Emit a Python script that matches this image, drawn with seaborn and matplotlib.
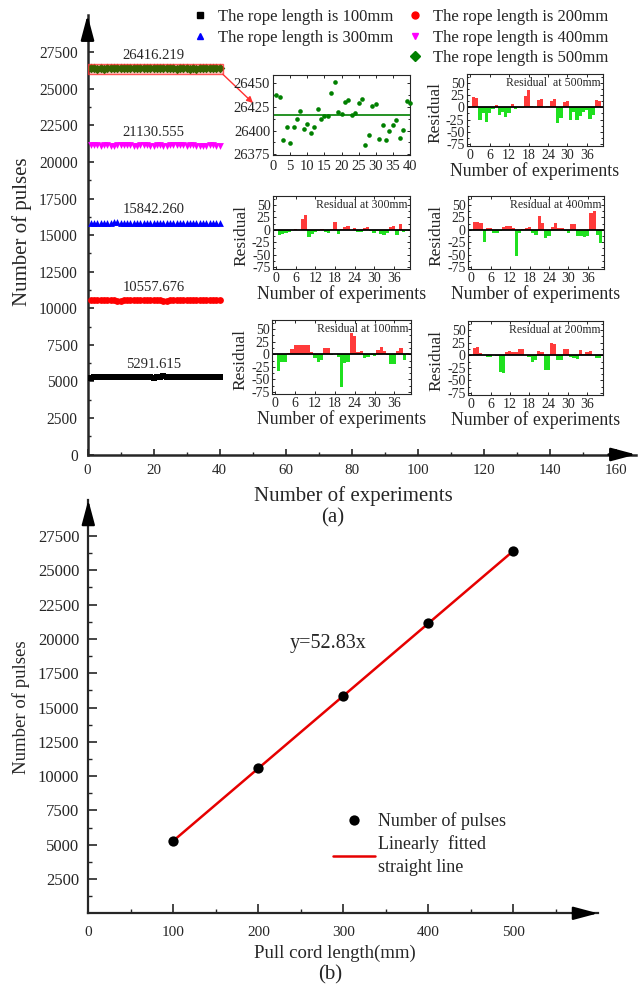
import matplotlib
matplotlib.use("Agg")
import matplotlib.pyplot as plt
import matplotlib.transforms as mtransforms
from matplotlib.lines import Line2D
from matplotlib.patches import Rectangle
from matplotlib.ticker import FixedLocator, MultipleLocator
import numpy as np
import seaborn as sns

sns.set_style("ticks")
plt.rcParams["font.family"] = ["Liberation Serif", "DejaVu Serif"]
plt.rcParams["axes.unicode_minus"] = False

# ---------------- data ----------------
rope_lengths = [100, 200, 300, 400, 500]
mean_pulses = [5291.615, 10557.676, 15842.260, 21130.555, 26416.219]
experiments = list(range(1, 41))

# deviation of each of the 40 runs from the mean pulse count
resid_100 = [-34, -15, -15, 2, 10, 18, 18, 19, 18, 18,
             5, -8, -15, -12, 12, 12, -2, 1, -5, -65,
             -17, -16, 42, 37, 4, 6, -8, -5, -1, -4,
             8, 14, 6, -2, -20, -20, 7, 12, -12, 2]
resid_200 = [15, 17, 4, 1, -3, -3, 1, -1, -33, -36,
             6, 8, 6, 6, 12, 12, 1, -3, -13, -9,
             9, 7, -29, -29, 24, 22, -10, -10, 13, 13,
             -4, -5, -7, 11, 2, 7, 8, 1, -5, -6]
resid_300 = [-10, -8, -6, -5, -1, 1, -1, 21, 29, -14,
             -8, -4, -2, 2, -4, -6, 1, 15, -8, 2,
             6, 8, -1, 3, -4, -4, 3, 5, -2, -7,
             -3, -9, -10, -7, 6, 7, -11, 11, -4, -2]
resid_400 = [15, 15, 13, -25, 3, 4, -7, -6, -3, 5,
             8, 8, 3, -52, -7, 1, 3, 5, -7, -10,
             27, 13, -17, -12, 6, 13, 4, 3, -3, -6,
             12, 11, -13, -13, -15, -13, 33, 38, -10, -27]
resid_500 = [21, 19, -26, -12, -30, -12, -4, 5, -15, -9,
             -19, -12, 7, -4, -1, -0.5, 24, 35, 3, 1,
             14, 16, 0.5, 2.5, 13, 17, -32, -21, 10, 12,
             -25, -10, -26, -17, -10, -5, -24, -16, 15, 13]
fit_slope = 52.83

series_labels = [f"The rope length is {L}mm" for L in rope_lengths]
series_colors = ["#000000", "#ff0000", "#0000ff", "#ff00ff", "#008000"]
series_markers = ["s", "o", "^", "v", "D"]
pos_color = "#ff3b3b"
neg_color = "#1fe01f"

W, H = 639, 988
fig = plt.figure(figsize=(W / 100, H / 100), dpi=100)


def axes_px(left, top, right, bottom):
    return fig.add_axes([left / W, 1 - bottom / H, (right - left) / W, (bottom - top) / H])


def arrow_heads(ax, lw):
    style = "-|>,head_length=1.5,head_width=0.4"
    for tip, tail in [((0, 1), (0, 0.95)), ((1, 0), (0.95, 0))]:
        ax.annotate("", xy=tip, xytext=tail, xycoords="axes fraction",
                    textcoords="axes fraction", annotation_clip=False,
                    arrowprops=dict(arrowstyle=style, color="black", lw=lw,
                                    mutation_scale=10, shrinkA=0, shrinkB=0))


# ---------------- (a) pulses for every run ----------------
ax = axes_px(87.5, 15, 636, 454.5)
ax.patch.set_alpha(0)
all_resid = [resid_100, resid_200, resid_300, resid_400, resid_500]
for mean, res, col, mk in zip(mean_pulses, all_resid, series_colors, series_markers):
    sns.scatterplot(x=experiments, y=[mean + r for r in res], marker=mk, color=col,
                    s=24, linewidth=0, ax=ax, legend=False, zorder=3)
    ax.text(20, mean + 890, f"{mean:.3f}", ha="center", va="center", fontsize=10.5)

ax.set_xlim(0, 166.2)
ax.set_ylim(0, 30050)
ax.set_xticks(np.arange(0, 161, 20))
ax.xaxis.set_minor_locator(FixedLocator(np.arange(10, 160, 20)))
ax.set_yticks(np.arange(0, 27501, 2500))
ax.yaxis.set_minor_locator(FixedLocator(np.arange(1250, 27500, 2500)))
sns.despine(ax=ax)
for s in ("left", "bottom"):
    ax.spines[s].set_linewidth(1.8)
ax.tick_params(which="major", direction="in", length=4.5, width=1.2)
ax.tick_params(which="minor", direction="in", length=2.5, width=1.0)
ax.tick_params(axis="y", labelsize=11.2, pad=7)
ax.tick_params(axis="x", labelsize=10.8, pad=6.5)
arrow_heads(ax, 1.8)

ax.set_ylabel("Number of pulses", fontsize=15, va="center")
ax.yaxis.set_label_coords((22 - 87.5) / 548.5, (454.5 - 231.7) / 439.5)
ax.set_xlabel("Number of experiments", fontsize=15, va="center")
ax.xaxis.set_label_coords((353 - 87.5) / 548.5, (454.5 - 496.5) / 439.5)
fig.text(333 / W, 1 - 518 / H, "(a)", ha="center", va="center", fontsize=15)

# zoom box around the 500 mm runs
ax.add_patch(Rectangle((0, 26000), 41, 700, facecolor=(1, 0, 0, 0.22),
                       edgecolor=(1, 0.2, 0.2, 0.8), lw=1, zorder=4))
ax.annotate("", xy=(253, H - 103), xycoords="figure pixels",
            xytext=(41, 26000), textcoords="data", annotation_clip=False,
            arrowprops=dict(arrowstyle="-|>", color="#ff3030", lw=1,
                            mutation_scale=9, shrinkA=0, shrinkB=0))

# legend, split into two columns
handles = [Line2D([], [], ls="none", marker=m, color=c, markersize=5)
           for m, c in zip(series_markers, series_colors)]
leg_kw = dict(loc="upper left", frameon=False, fontsize=12, handlelength=1.0,
              handletextpad=0.55, labelspacing=0.27, borderpad=0, borderaxespad=0)
fig.legend([handles[0], handles[2]], [series_labels[0], series_labels[2]],
           bbox_to_anchor=(191.7 / W, 1 - 9 / H), **leg_kw)
fig.legend([handles[1], handles[3], handles[4]],
           [series_labels[1], series_labels[3], series_labels[4]],
           bbox_to_anchor=(406.7 / W, 1 - 9 / H), **leg_kw)


# ---------------- insets ----------------
def box_style(a):
    for s in a.spines.values():
        s.set_visible(True)
        s.set_linewidth(0.8)
    a.tick_params(which="both", direction="in", top=True, right=True, width=0.7)
    a.tick_params(which="major", length=2.5)
    a.tick_params(which="minor", length=1.5)


# 500 mm runs in detail
sx = axes_px(273, 75, 410, 155)
sns.scatterplot(x=experiments, y=[mean_pulses[4] + r for r in resid_500],
                color=series_colors[4], marker="o", s=11, linewidth=0,
                ax=sx, legend=False, clip_on=False, zorder=3)
sx.axhline(mean_pulses[4], color=series_colors[4], lw=1.2)
sx.set_xlim(0, 40)
sx.set_ylim(26374, 26459)
sx.set_xticks(np.arange(0, 41, 5))
sx.set_yticks([26375, 26400, 26425, 26450])
sx.yaxis.set_minor_locator(MultipleLocator(12.5))
box_style(sx)
sx.tick_params(axis="both", labelsize=10.5)
sx.tick_params(axis="y", pad=2)
sx.tick_params(axis="x", pad=3.5)


def residual_panel(left, top, right, bottom, res, title):
    a = axes_px(left, top, right, bottom)
    wpx, hpx = right - left, bottom - top
    a.bar(experiments, res, width=1.0, linewidth=0,
          color=[pos_color if r >= 0 else neg_color for r in res])
    a.axhline(0, color="black", lw=1.3)
    a.set_xlim(-1, 41)
    a.set_ylim(-79, 68)
    a.set_xticks(np.arange(0, 37, 6))
    a.set_yticks([50, 25, 0, -25, -50, -75])
    a.yaxis.set_minor_locator(MultipleLocator(12.5))
    box_style(a)
    a.tick_params(axis="both", labelsize=10)
    a.tick_params(axis="y", pad=1.8)
    a.tick_params(axis="x", pad=2.5)
    a.text(0.98, 50, title, transform=mtransforms.blended_transform_factory(a.transAxes, a.transData),
           ha="right", va="center", fontsize=8.5)
    a.set_ylabel("Residual", fontsize=12.5, va="center")
    a.yaxis.set_label_coords(-32 / wpx, 0.46)
    a.set_xlabel("Number of experiments", fontsize=12.8, va="center")
    a.xaxis.set_label_coords(0.5, -25 / hpx)
    return a


residual_panel(467, 74, 603, 146, resid_500, "Residual  at 500mm")
residual_panel(273, 196, 410, 269, resid_300, "Residual at 300mm")
residual_panel(468, 196, 604, 269, resid_400, "Residual at 400mm")
residual_panel(272, 320, 411, 394, resid_100, "Residual at 100mm")
residual_panel(468, 321, 603, 395, resid_200, "Residual at 200mm")

# ---------------- (b) mean pulses against cord length ----------------
bx = axes_px(88.3, 500, 598, 913.3)
bx.patch.set_alpha(0)
sns.lineplot(x=rope_lengths, y=[fit_slope * L for L in rope_lengths], color="#e60000",
             lw=1.8, ax=bx, label="Linearly  fitted\nstraight line")
sns.scatterplot(x=rope_lengths, y=mean_pulses, color="black", s=55, linewidth=0,
                ax=bx, label="Number of pulses", zorder=3)
bx.set_xlim(0, 599.6)
bx.set_ylim(0, 30124)
bx.set_xticks(np.arange(0, 501, 100))
bx.xaxis.set_minor_locator(FixedLocator(np.arange(50, 560, 100)))
bx.set_yticks(np.arange(2500, 27501, 2500))
bx.yaxis.set_minor_locator(FixedLocator(np.arange(1250, 27500, 2500)))
sns.despine(ax=bx)
for s in ("left", "bottom"):
    bx.spines[s].set_linewidth(1.6)
bx.tick_params(which="major", direction="in", length=6.5, width=1.2)
bx.tick_params(which="minor", direction="in", length=3.2, width=1.0)
bx.tick_params(axis="y", labelsize=12, pad=6.5)
bx.tick_params(axis="x", labelsize=11, pad=9.5)
arrow_heads(bx, 1.6)

bx.text(237, 19700, f"y={fit_slope}x", ha="left", va="center", fontsize=14.5)
bx.set_ylabel("Number of pulses", fontsize=13.5, va="center")
bx.yaxis.set_label_coords((21 - 88.3) / 509.7, (913.3 - 707) / 413.3)
bx.set_xlabel("Pull cord length(mm)", fontsize=13.5, va="center")
bx.xaxis.set_label_coords((335 - 88.3) / 509.7, (913.3 - 953) / 413.3)
fig.text(330 / W, 1 - 975 / H, "(b)", ha="center", va="center", fontsize=15)

h, l = bx.get_legend_handles_labels()
leg = bx.legend([h[1], h[0]], [l[1], l[0]], loc="upper left",
                bbox_to_anchor=(333 / W, 1 - 812 / H),
                bbox_transform=fig.transFigure, frameon=False, fontsize=13, handlelength=2.3,
                handletextpad=0.2, labelspacing=0.28, borderpad=0, borderaxespad=0,
                scatteryoffsets=[0.5])
for t in leg.get_texts():
    t.set_linespacing(1.5)

fig.savefig("out.png", dpi=100)
